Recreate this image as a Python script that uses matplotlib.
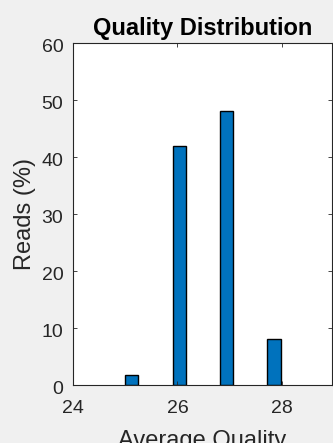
import matplotlib
matplotlib.use("Agg")
import matplotlib.pyplot as plt
import matplotlib.transforms as mtransforms

# histogram bin centres (average quality) and share of reads
bin_centers = [25.12, 26.04, 26.94, 27.85]
reads_pct = [1.8, 42.0, 48.0, 8.0]
x_ticks = [24, 26, 28]
y_ticks = [0, 10, 20, 30, 40, 50, 60]

plt.rcParams["font.family"] = ["Liberation Sans", "DejaVu Sans"]

fig = plt.figure(figsize=(3.33, 4.43), dpi=100, facecolor="#f0f0f0")
ax = fig.add_axes([73 / 333, 58 / 443, 259 / 333, 342 / 443])
ax.bar(bin_centers, reads_pct, width=0.26, color="#0072BD",
       edgecolor="black", linewidth=1.0)

ax.set_xlim(24, 28.96)
ax.set_ylim(0, 60)
ax.set_xticks(x_ticks)
ax.set_yticks(y_ticks)
ax.tick_params(direction="in", length=3, width=0.6, colors="#262626",
               labelsize=14, top=True, right=True)
ax.tick_params(axis="y", pad=7)
ax.tick_params(axis="x", pad=11)

# y tick labels sit a little below their ticks
shift = mtransforms.ScaledTranslation(0, -0.025, fig.dpi_scale_trans)
for lbl in ax.get_yticklabels():
    lbl.set_transform(lbl.get_transform() + shift)

for s in ax.spines.values():
    s.set_color("#262626")
    s.set_linewidth(0.8)

ax.set_title("Quality Distribution", fontsize=17, fontweight="bold",
             color="black", pad=6)
ax.set_xlabel("Average Quality", fontsize=17, color="#262626", labelpad=9)
ax.set_ylabel("Reads (%)", fontsize=17, color="#262626", labelpad=4)

fig.savefig("out.png", dpi=100, facecolor=fig.get_facecolor())
